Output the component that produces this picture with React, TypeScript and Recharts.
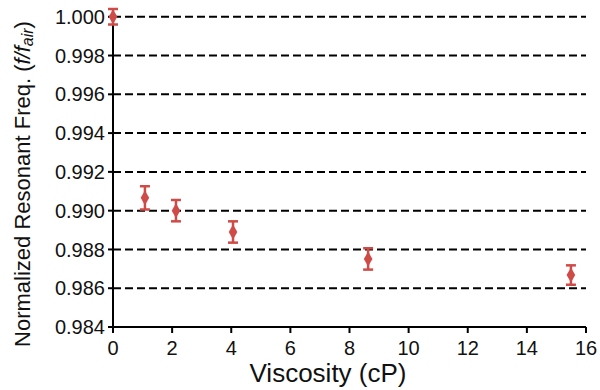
import React from 'react';
import { ScatterChart, Scatter, XAxis, YAxis, ReferenceLine, ErrorBar } from 'recharts';

const viscosity = [0, 1.08, 2.13, 4.06, 8.63, 15.49];
const normFreq = [1.0, 0.99066, 0.99, 0.9889, 0.98751, 0.98668];
const freqErr = [0.0004, 0.0006, 0.00055, 0.00055, 0.00055, 0.0005];
const xTicks = [0, 2, 4, 6, 8, 10, 12, 14, 16];
const yTicks = [0.984, 0.986, 0.988, 0.99, 0.992, 0.994, 0.996, 0.998, 1.0];
const gridValues = [0.986, 0.988, 0.99, 0.992, 0.994, 0.996, 0.998, 1.0];

const data = viscosity.map((v, i) => ({ x: v, y: normFreq[i], err: freqErr[i] }));

const RED = '#cf4b47';
const FONT = 'Liberation Sans, Arial, Helvetica, sans-serif';

const YLabel = () => (
  <text
    x={22}
    y={184}
    transform="rotate(-90 22 184)"
    textAnchor="middle"
    dominantBaseline="central"
    fontFamily={FONT}
    fontSize={22}
    fill="#111"
  >
    Normalized Resonant Freq. (<tspan fontStyle="italic">f/f</tspan>
    <tspan fontStyle="italic" fontSize={16} dy={5}>air</tspan>
    <tspan dy={-5}>)</tspan>
  </text>
);

const XLabel = () => (
  <text x={328} y={373} textAnchor="middle" dominantBaseline="central" fontFamily={FONT} fontSize={26} fill="#111">
    Viscosity (cP)
  </text>
);

export default function App() {
  return (
    <div style={{ position: 'absolute', left: 0, top: 0, background: '#fff' }}>
      <ScatterChart width={600} height={390} margin={{ top: 9, right: 14, bottom: 0, left: 0 }}>
        {gridValues.map((g) => (
          <ReferenceLine key={g} y={g} stroke="#000" strokeWidth={2} strokeDasharray="8 4" />
        ))}
        <ReferenceLine
          segment={[{ x: 0, y: yTicks[0] }, { x: 0, y: yTicks[yTicks.length - 1] }]}
          stroke="#000"
          strokeWidth={2}
        />
        <XAxis
          type="number"
          dataKey="x"
          domain={[0, 16]}
          ticks={xTicks}
          height={63}
          axisLine={{ stroke: '#000', strokeWidth: 2 }}
          tickLine={{ stroke: '#000', strokeWidth: 2 }}
          tickSize={6}
          tickMargin={8}
          tick={{ fill: '#111', fontSize: 20, fontFamily: FONT }}
          label={<XLabel />}
          interval={0}
        />
        <YAxis
          type="number"
          dataKey="y"
          domain={[0.984, 1.0004]}
          ticks={yTicks}
          width={113}
          axisLine={false}
          tickLine={{ stroke: '#000', strokeWidth: 2 }}
          tickSize={5}
          tickMargin={3}
          tick={{ fill: '#111', fontSize: 20, fontFamily: FONT }}
          tickFormatter={(v: number) => v.toFixed(3)}
          label={<YLabel />}
          interval={0}
        />
        <Scatter data={data} fill={RED} shape="diamond" isAnimationActive={false}>
          <ErrorBar dataKey="err" direction="y" width={5} stroke={RED} strokeWidth={2.5} />
        </Scatter>
      </ScatterChart>
    </div>
  );
}
